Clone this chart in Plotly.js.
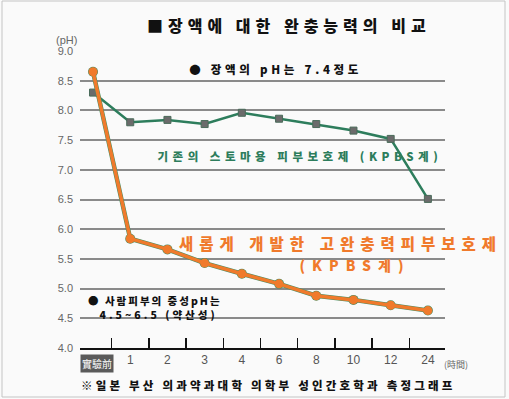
<!DOCTYPE html>
<html>
<head>
<meta charset="utf-8">
<script src="https://cdn.plot.ly/plotly-3.0.1.min.js"></script>
<style>
html,body{margin:0;padding:0;background:#fafafa;}
#chart{width:509px;height:399px;}
.annotation[data-index="0"] .annotation-text{letter-spacing:5px;}
.annotation[data-index="1"] .annotation-text{letter-spacing:3.7px;}
.annotation[data-index="2"] .annotation-text{letter-spacing:4.5px;}
.annotation[data-index="3"] .annotation-text{letter-spacing:6px;}
.annotation[data-index="4"] .annotation-text{letter-spacing:7px;}
.annotation[data-index="5"] .annotation-text{letter-spacing:2px;}
.annotation[data-index="6"] .annotation-text{letter-spacing:3px;}
.annotation[data-index="7"] .annotation-text{letter-spacing:3.2px;}
</style>
</head>
<body>
<div id="chart"></div>
<script>
const categories = ['實驗前','1','2','3','4','6','8','10','12','24'];
const tickLabels = ['','1','2','3','4','6','8','10','12','24'];
const existingKPBS = [8.30, 7.80, 7.84, 7.77, 7.96, 7.86, 7.77, 7.66, 7.52, 6.51];
const newKPBS = [8.65, 5.84, 5.66, 5.43, 5.25, 5.08, 4.88, 4.81, 4.72, 4.63];
const yTicks = [4.0,4.5,5.0,5.5,6.0,6.5,7.0,7.5,8.0,8.5,9.0];

const KR = '"Noto Sans CJK KR", "Noto Sans", sans-serif';
const NUM = '"Liberation Sans Narrow", "Liberation Sans", Arial, sans-serif';
const green = '#2d7d5c';
const orange = '#f07a2c';

const traces = [
  {x: categories, y: existingKPBS, type:'scatter', mode:'lines+markers',
   line:{color:green, width:2.5},
   marker:{symbol:'square', size:7, color:'#6b6b6b', line:{color:'#4a6b5a', width:1}},
   hoverinfo:'skip', showlegend:false},
  {x: categories, y: newKPBS, type:'scatter', mode:'lines+markers',
   line:{color:'#4a8d62', width:4.5},
   marker:{size:10, color:'#4a8d62'},
   hoverinfo:'skip', showlegend:false},
  {x: categories, y: newKPBS, type:'scatter', mode:'lines+markers',
   line:{color:orange, width:3.5},
   marker:{size:9, color:orange},
   hoverinfo:'skip', showlegend:false}
];

function px(x){return (x-80)/365;}
function py(y){return (348-y)/297;}

const annotations = [
  {text:'■장액에 대한 완충능력의 비교', x:px(289), y:py(25), font:{family:KR, size:16, color:'#111', weight:900}},
  {text:'● 장액의 pH는 7.4정도', x:px(276), y:py(69), font:{family:KR, size:11.5, color:'#111', weight:900}},
  {text:'기존의 스토마용 피부보호제 (KPBS계)', x:px(300), y:py(156), font:{family:KR, size:11.5, color:green, weight:900}},
  {text:'새롭게 개발한 고완충력피부보호제', x:px(340), y:py(243), font:{family:KR, size:15.5, color:orange, weight:900}},
  {text:'(KPBS계)', x:px(355), y:py(265), font:{family:KR, size:14, color:orange, weight:900}},
  {text:'● 사람피부의 중성pH는', x:px(155), y:py(300), font:{family:KR, size:10.5, color:'#111', weight:900}},
  {text:'4.5~6.5 (약산성)', x:px(158.5), y:py(314), font:{family:KR, size:10.5, color:'#111', weight:900}},
  {text:'※일본 부산 의과약과대학 의학부 성인간호학과 측정그래프', x:px(268), y:py(385), font:{family:KR, size:11.5, color:'#111', weight:900}},
  {text:'實驗前', x:px(97), y:py(363), font:{family:'"Noto Sans CJK TC", sans-serif', size:10, color:'#fff'}, bgcolor:'#5a5a5a', borderpad:1},
  {text:'(時間)', x:px(442), y:py(364), xanchor:'left', font:{family:'"Noto Sans CJK TC", sans-serif', size:9, color:'#666'}},
  {text:'(pH)', x:px(66), y:py(40), font:{family:NUM, size:11, color:'#666'}}
].map(a => Object.assign({xref:'paper', yref:'paper', showarrow:false, xanchor:'center', yanchor:'middle'}, a));

const layout = {
  width:509, height:399,
  margin:{l:80, r:64, t:51, b:51},
  paper_bgcolor:'#fafafa', plot_bgcolor:'rgba(0,0,0,0)',
  showlegend:false,
  xaxis:{
    type:'category', categoryorder:'array', categoryarray:categories,
    tickvals:categories, ticktext:tickLabels,
    range:[-0.35, 9.46], tickson:'boundaries',
    ticks:'inside', ticklen:10, tickwidth:1.5, tickcolor:'#111',
    showgrid:false, zeroline:false,
    showline:true, linecolor:'#111', linewidth:2,
    tickfont:{family:NUM, size:12, color:'#555'},
    fixedrange:true
  },
  yaxis:{
    range:[4, 9], tickvals:yTicks, ticktext:yTicks.map(v=>v.toFixed(1)),
    showgrid:true, gridcolor:'#8a8a8a', gridwidth:2,
    zeroline:false, showline:false, ticks:'',
    ticklabelstandoff:6,
    tickfont:{family:NUM, size:11, color:'#666'},
    fixedrange:true
  },
  shapes:[
    {type:'rect', xref:'paper', yref:'paper', x0:px(2), x1:px(505), y0:py(397), y1:py(1), line:{color:'#c4c4c4', width:1}, layer:'below'}
  ],
  annotations: annotations
};

Plotly.newPlot('chart', traces, layout, {staticPlot:true, displayModeBar:false});
</script>
</body>
</html>
